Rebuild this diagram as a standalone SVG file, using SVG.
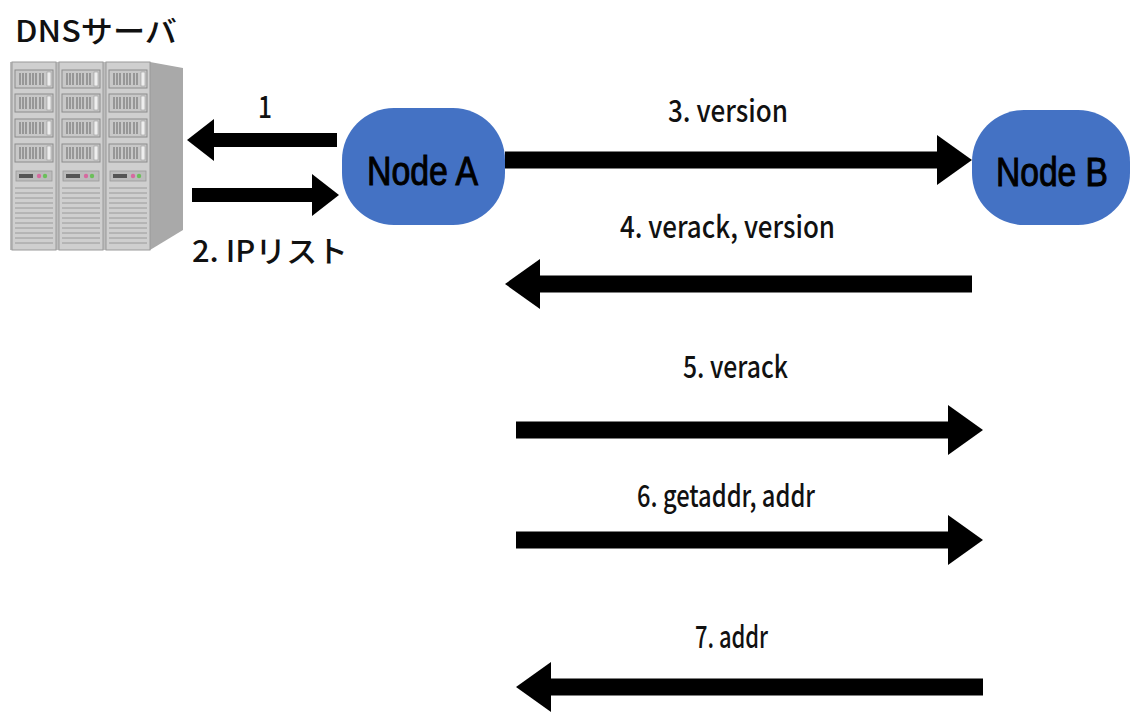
<svg xmlns="http://www.w3.org/2000/svg" width="1133" height="714" viewBox="0 0 1133 714">
<style>
.lbl{font-family:"Noto Sans CJK JP","Liberation Sans",sans-serif;font-size:30px;font-weight:500;fill:#111}
.node{fill:#4472C4}
.ntxt{font-family:"Liberation Sans","Noto Sans",sans-serif;font-size:40px;fill:#000;stroke:#000;stroke-width:1}
.big{stroke:#000;stroke-width:17;fill:none}
.sm{stroke:#000;stroke-width:14;fill:none}
.bay{fill:#c8c8c8;stroke:#8c8c8c;stroke-width:1}
.slot{stroke:#777;stroke-width:1.2}
.vent{stroke:#9a9a9a;stroke-width:1}
</style>
<defs>
<marker id="hb" markerUnits="userSpaceOnUse" markerWidth="36" markerHeight="50" refX="0" refY="25" orient="auto"><path d="M0,0 L35,25 L0,50 z" fill="#000"/></marker>
<marker id="hs" markerUnits="userSpaceOnUse" markerWidth="28" markerHeight="42" refX="0" refY="21" orient="auto"><path d="M0,0 L27,21 L0,42 z" fill="#000"/></marker>
<g id="col">
<rect x="0" y="0" width="44" height="188" fill="#cfcfcf" stroke="#9a9a9a" stroke-width="1"/>
<g id="bayrow">
<rect class="bay" x="3" y="8" width="38" height="18"/>
<path class="slot" d="M8,11v12M11,11v12M14,11v12M18,11v12M21,11v12M24,11v12M28,11v12M31,11v12"/>
<rect x="35" y="10" width="4" height="14" fill="#eee" stroke="#999" stroke-width="0.6"/>
</g>
<use href="#bayrow" y="24"/>
<use href="#bayrow" y="49"/>
<use href="#bayrow" y="74"/>
<rect x="4" y="109" width="36" height="10" fill="#bcbcbc" stroke="#999" stroke-width="0.8"/>
<rect x="7" y="112" width="14" height="4" fill="#555"/>
<circle cx="27" cy="114" r="2.2" fill="#d66aa0"/>
<circle cx="33" cy="114" r="2.2" fill="#6bbf5a"/>
<path class="vent" d="M3,126h38M3,131h38M3,136h38M3,141h38M3,146h38M3,151h38M3,156h38M3,161h38M3,166h38M3,171h38M3,176h38M3,181h38"/>
</g>
</defs>
<rect width="1133" height="714" fill="#fff"/>

<g id="dns-server">
<polygon points="150,62 183,68 183,230 150,250" fill="#a9a9a9"/>
<rect x="10" y="62" width="140" height="188" fill="#bdbdbd"/>
<use href="#col" x="12" y="62"/>
<use href="#col" x="59" y="62"/>
<use href="#col" x="106" y="62"/>
<text class="lbl" x="15" y="42" font-size="33" textLength="162" lengthAdjust="spacingAndGlyphs">DNSサーバ</text>
</g>

<g id="node-a">
<rect class="node" x="342" y="108" width="163" height="117" rx="52" ry="52"/>
<text class="ntxt" x="367" y="185" textLength="111" lengthAdjust="spacingAndGlyphs">Node A</text>
</g>

<g id="node-b">
<rect class="node" x="972" y="110" width="158" height="115" rx="52" ry="52"/>
<text class="ntxt" x="996" y="186" textLength="112" lengthAdjust="spacingAndGlyphs">Node B</text>
</g>

<g id="connectors">
<line class="sm" x1="337" y1="140" x2="214" y2="140" marker-end="url(#hs)"/>
<line class="sm" x1="192" y1="195" x2="312" y2="195" marker-end="url(#hs)"/>
<line class="big" x1="505" y1="160" x2="937" y2="160" marker-end="url(#hb)"/>
<line class="big" x1="972" y1="284" x2="540" y2="284" marker-end="url(#hb)"/>
<line class="big" x1="516" y1="430" x2="948" y2="430" marker-end="url(#hb)"/>
<line class="big" x1="516" y1="540" x2="948" y2="540" marker-end="url(#hb)"/>
<line class="big" x1="983" y1="687" x2="551" y2="687" marker-end="url(#hb)"/>
</g>

<g id="labels">
<text class="lbl" x="258" y="118" textLength="14" lengthAdjust="spacingAndGlyphs">1</text>
<text class="lbl" x="192" y="262" font-size="32" textLength="156" lengthAdjust="spacingAndGlyphs">2. IPリスト</text>
<text class="lbl" x="668" y="122" textLength="120" lengthAdjust="spacingAndGlyphs">3. version</text>
<text class="lbl" x="620" y="238" textLength="215" lengthAdjust="spacingAndGlyphs">4. verack, version</text>
<text class="lbl" x="683" y="378" textLength="105" lengthAdjust="spacingAndGlyphs">5. verack</text>
<text class="lbl" x="637" y="507" textLength="178" lengthAdjust="spacingAndGlyphs">6. getaddr, addr</text>
<text class="lbl" x="695" y="648" textLength="73" lengthAdjust="spacingAndGlyphs">7. addr</text>
</g>
</svg>
